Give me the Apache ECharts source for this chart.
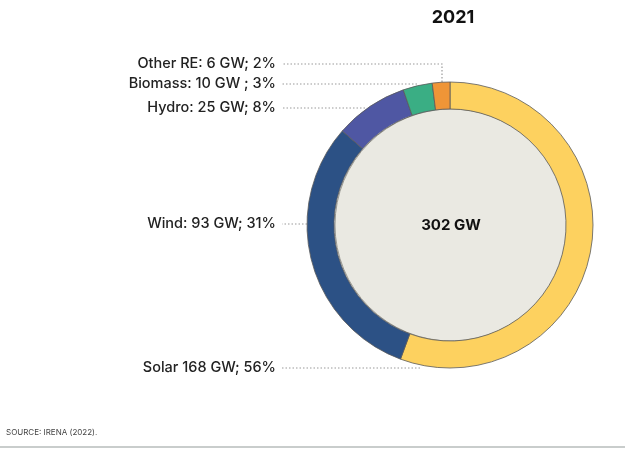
<!DOCTYPE html>
<html>
<head>
<meta charset="utf-8">
<script src="https://cdn.jsdelivr.net/npm/echarts@6/dist/echarts.min.js"></script>
<style>
html,body{margin:0;padding:0;background:#fff;}
#chart{width:625px;height:451px;}
</style>
</head>
<body>
<div id="chart"></div>
<script>
// ---- data ----
var categories = ["Solar", "Wind", "Hydro", "Biomass", "Other RE"];
var values = [168, 93, 25, 10, 6];
var labelTexts = ["Solar 168 GW; 56%", "Wind: 93 GW; 31%", "Hydro: 25 GW; 8%", "Biomass: 10 GW ; 3%", "Other RE: 6 GW; 2%"];
var totalLabel = "302 GW";
var yearTitle = "2021";
var sourceText = "SOURCE: IRENA (2022).";

// ---- styling / layout ----
var colors = ["#fdd15f", "#2c5185", "#4f57a3", "#3aae84", "#ef9537"];
var CX = 450, CY = 225, R_IN = 116, R_OUT = 143;
var LABEL_X = 276, LINE_START = 282;
// label y, line end x, optional vertical drop end y
var labelLayoutCfg = [
  {y: 368, endX: 420},
  {y: 224, endX: 307},
  {y: 108, endX: 365},
  {y: 84, endX: 417},
  {y: 64, endX: 442, dropY: 82}
];

var total = values.reduce(function(a,b){return a+b;},0);
var pieData = categories.map(function(c,i){
  return {name: c, value: values[i], itemStyle: {color: colors[i]}};
});

var chart = echarts.init(document.getElementById('chart'), null, {renderer:'canvas'});
chart.setOption({
  animation: false,
  backgroundColor: '#ffffff',
  title: {
    text: yearTitle, left: CX - 2, top: 4, textAlign: 'center',
    textStyle: {fontFamily: 'Inter', fontWeight: 'bold', fontSize: 18, color: '#111'}
  },
  graphic: [
    {type: 'text', left: 6, top: 429, style: {text: sourceText, font: '8px Inter', fill: '#444'}},
    {type: 'line', shape: {x1: 0, y1: 447, x2: 625, y2: 447}, style: {stroke: '#c9cdcc', lineWidth: 2}}
  ],
  series: [
    {
      type: 'pie', silent: true,
      center: [CX + 1, CY], radius: [0, R_IN],
      data: [{value: total, name: 'total'}],
      itemStyle: {color: '#eae9e2', borderColor: '#9a9a94', borderWidth: 1},
      label: {show: true, position: 'center', formatter: function(){return totalLabel;},
        fontFamily: 'Inter', fontWeight: 'bold', fontSize: 15, color: '#111'},
      labelLine: {show: false}
    },
    {
      type: 'pie', silent: true,
      center: [CX, CY], radius: [R_IN, R_OUT],
      startAngle: 90, clockwise: true,
      avoidLabelOverlap: false,
      data: pieData,
      itemStyle: {borderColor: '#5a5a5a', borderWidth: 0.8},
      label: {
        show: true, position: 'outside', overflow: 'none',
        formatter: function(p){ return labelTexts[p.dataIndex]; },
        fontFamily: 'Inter', fontSize: 14.5, fontWeight: 500, color: '#222'
      },
      labelLine: {show: true, lineStyle: {type: [1.5, 2], color: '#9a9a9a', width: 1.2}},
      labelLayout: function(params){
        var c = labelLayoutCfg[params.dataIndex];
        var pts;
        if (c.dropY != null) {
          pts = [[c.endX, c.dropY], [c.endX, c.y], [LINE_START, c.y]];
        } else {
          pts = [[c.endX, c.y], [(c.endX + LINE_START)/2, c.y], [LINE_START, c.y]];
        }
        return {x: LABEL_X, y: c.y, align: 'right', verticalAlign: 'middle', labelLinePoints: pts};
      }
    }
  ]
});
</script>
</body>
</html>
